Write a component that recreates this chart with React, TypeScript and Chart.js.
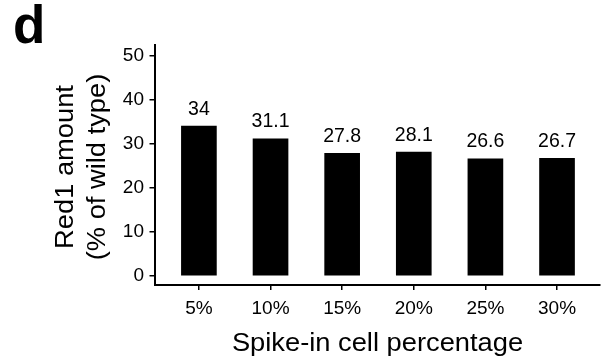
import React, { useEffect, useRef } from "react";
import { Chart, registerables } from "chart.js";

Chart.register(...registerables);

const categories = ["5%", "10%", "15%", "20%", "25%", "30%"];
const values = [34, 31.1, 27.8, 28.1, 26.6, 26.7];
const valueLabels = ["34", "31.1", "27.8", "28.1", "26.6", "26.7"];
const yTicks = [0, 10, 20, 30, 40, 50];
const panelLabel = "d";
const xTitle = "Spike-in cell percentage";
const yTitle = ["Red1 amount", "(% of wild type)"];

const FONT = '"Liberation Sans", Arial, Helvetica, sans-serif';
const TITLE_STRETCH = 1.07;

export default function App() {
  const ref = useRef<HTMLCanvasElement | null>(null);

  useEffect(() => {
    const canvas = ref.current;
    if (!canvas) return;

    const overlay = {
      id: "overlay",
      afterDraw(chart: any) {
        const ctx = chart.ctx;
        ctx.save();
        ctx.fillStyle = "#000";
        // panel label
        ctx.font = `bold 53px ${FONT}`;
        ctx.textAlign = "left";
        ctx.textBaseline = "alphabetic";
        ctx.fillText(panelLabel, 13, 43);
        // value labels
        const meta = chart.getDatasetMeta(0);
        ctx.font = `19.5px ${FONT}`;
        ctx.textAlign = "center";
        meta.data.forEach((bar: any, i: number) => {
          ctx.fillText(valueLabels[i], bar.x, bar.y - 11.5);
        });
        // x title
        ctx.font = `25.5px ${FONT}`;
        ctx.save();
        ctx.translate(377.5, 351);
        ctx.scale(TITLE_STRETCH, 1);
        ctx.fillText(xTitle, 0, 0);
        ctx.restore();
        // y title
        ctx.save();
        ctx.translate(0, 167);
        ctx.rotate(-Math.PI / 2);
        ctx.scale(TITLE_STRETCH, 1);
        ctx.fillText(yTitle[0], 0, 73.3);
        ctx.fillText(yTitle[1], 0, 105);
        ctx.restore();
        ctx.restore();
      },
    };

    const chart = new Chart(canvas, {
      type: "bar",
      data: {
        datasets: [
          {
            data: values.map((v, i) => ({ x: i, y: v })),
            backgroundColor: "#000",
            borderWidth: 0,
            barThickness: 35,
          },
        ],
      },
      options: {
        responsive: false,
        animation: false,
        layout: { padding: { top: 45, right: 7, left: 0, bottom: 0 } },
        plugins: { legend: { display: false }, tooltip: { enabled: false } },
        scales: {
          x: {
            type: "linear",
            offset: false,
            min: -0.62,
            max: 5.6,
            afterBuildTicks: (scale: any) => {
              scale.ticks = categories.map((_, i) => ({ value: i }));
            },
            afterFit: (scale: any) => {
              scale.height = 78;
            },
            ticks: {
              callback: (v: any) => categories[v] ?? "",
              color: "#000",
              font: { size: 19, family: FONT },
              padding: 7,
              autoSkip: false,
              maxRotation: 0,
            },
            grid: {
              offset: false,
              drawOnChartArea: false,
              drawTicks: true,
              tickLength: 5,
              color: "#000",
              lineWidth: 1.5,
            },
            border: { display: true, color: "#000", width: 2 },
          },
          y: {
            type: "linear",
            min: -2.05,
            max: 52.4,
            afterBuildTicks: (scale: any) => {
              scale.ticks = yTicks.map((v) => ({ value: v }));
            },
            afterFit: (scale: any) => {
              scale.width = 154.5;
            },
            ticks: {
              color: "#000",
              font: { size: 19, family: FONT },
              padding: 5.5,
            },
            grid: {
              drawOnChartArea: false,
              drawTicks: true,
              tickLength: 5,
              color: "#000",
              lineWidth: 1.5,
            },
            border: { display: true, color: "#000", width: 2 },
          },
        },
      },
      plugins: [overlay],
    } as any);

    return () => chart.destroy();
  }, []);

  return (
    <div style={{ position: "absolute", left: 0, top: 0, width: 607, height: 363, background: "#fff" }}>
      <canvas ref={ref} width={607} height={363} />
    </div>
  );
}
